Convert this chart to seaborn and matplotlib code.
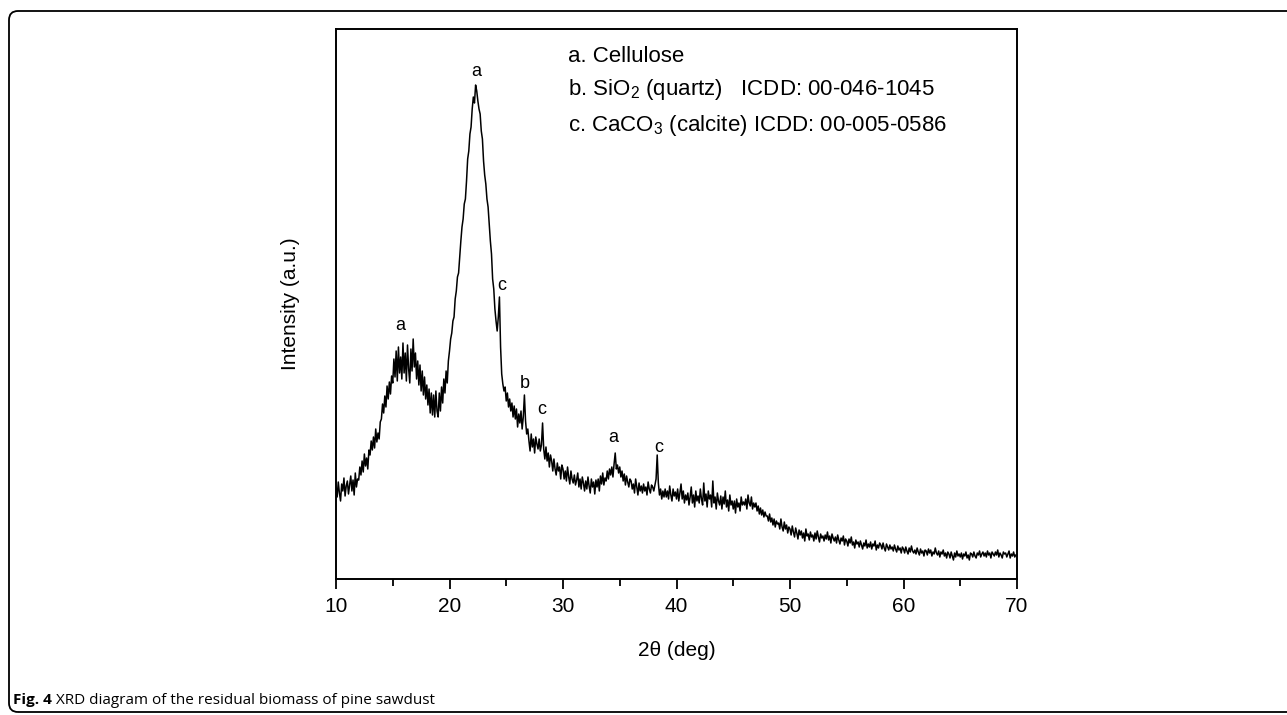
import numpy as np
import pandas as pd
import matplotlib
matplotlib.use("Agg")
import matplotlib.pyplot as plt
import seaborn as sns
from matplotlib.patches import FancyBboxPatch
from matplotlib.transforms import IdentityTransform

# ---- data (0.1 deg steps, 10..70 deg) ----
two_theta_start, two_theta_step = 10.0, 0.1
intensity = [
    92, 82, 97, 86, 78, 95, 88, 101, 83, 93,          # 10
    98, 85, 94, 103, 88, 99, 84, 106, 92, 100,        # 11
    99, 112, 104, 118, 107, 125, 113, 121, 110, 129,  # 12
    124, 138, 129, 142, 131, 150, 137, 146, 140, 157, # 13
    160, 175, 166, 183, 172, 193, 180, 197, 185, 203, # 14
    196, 220, 202, 228, 198, 232, 206, 222, 200, 236, # 15
    206, 226, 198, 234, 210, 196, 230, 208, 240, 212, # 16
    226, 200, 218, 194, 214, 188, 208, 184, 202, 180, # 17
    194, 174, 190, 166, 186, 164, 184, 162, 188, 168, # 18
    162, 186, 168, 192, 176, 200, 186, 208, 196, 218, # 19
    228, 240, 246, 258, 262, 280, 288, 302, 306, 322, # 20
    338, 352, 360, 375, 380, 398, 420, 428, 445, 452, # 21
    470, 482, 476, 494, 488, 478, 470, 465, 448, 440, # 22
    418, 404, 395, 380, 372, 355, 338, 325, 300, 290, # 23
    270, 258, 248, 262, 282, 232, 205, 195, 188, 192, # 24
    178, 186, 172, 180, 168, 176, 162, 173, 160, 170, # 25
    152, 165, 156, 168, 150, 162, 184, 158, 145, 150, # 26
    138, 128, 145, 132, 140, 126, 142, 135, 130, 140, # 27
    128, 134, 156, 130, 120, 132, 118, 126, 112, 124, # 28
    118, 108, 120, 110, 104, 116, 108, 112, 100, 114, # 29
    110, 100, 108, 98, 112, 102, 95, 108, 100, 96,    # 30
    104, 94, 99, 106, 92, 100, 90, 102, 96, 88,       # 31
    98, 90, 102, 93, 86, 100, 92, 97, 85, 99,         # 32
    92, 100, 88, 103, 95, 106, 94, 101, 98, 108,      # 33
    100, 110, 104, 112, 102, 115, 126, 110, 114, 106, # 34
    112, 102, 108, 98, 105, 94, 103, 97, 92, 100,     # 35
    98, 90, 95, 86, 100, 92, 84, 96, 88, 93,          # 36
    86, 95, 88, 92, 84, 97, 90, 86, 94, 92,           # 37
    88, 94, 100, 124, 96, 84, 90, 80, 88, 82,         # 38
    90, 82, 88, 80, 93, 84, 78, 90, 83, 87,           # 39
    80, 90, 78, 86, 95, 80, 88, 76, 84, 79,           # 40
    86, 74, 82, 92, 76, 84, 72, 88, 78, 83,           # 41
    76, 90, 80, 74, 96, 78, 85, 72, 88, 80,           # 42
    84, 72, 98, 76, 82, 70, 86, 78, 74, 83,           # 43
    70, 82, 75, 88, 72, 79, 68, 84, 74, 78,           # 44
    70, 78, 66, 80, 72, 76, 68, 82, 74, 77,           # 45
    74, 80, 70, 84, 76, 73, 82, 70, 76, 72,           # 46
    76, 68, 73, 65, 71, 64, 69, 62, 67, 63,           # 47
    63, 58, 65, 57, 61, 54, 60, 52, 58, 55,           # 48
    56, 50, 60, 52, 48, 57, 50, 54, 46, 52,           # 49
    50, 44, 53, 47, 42, 51, 46, 40, 49, 44,           # 50
    48, 41, 46, 38, 50, 43, 45, 39, 47, 42,           # 51
    44, 38, 46, 40, 48, 42, 37, 45, 41, 43,           # 52
    38, 44, 40, 47, 39, 43, 36, 45, 41, 38,           # 53
    42, 36, 44, 39, 35, 41, 38, 43, 34, 40,           # 54
    38, 33, 40, 36, 42, 34, 37, 31, 39, 35,           # 55
    37, 32, 38, 34, 30, 36, 33, 39, 31, 35,           # 56
    32, 37, 30, 35, 33, 38, 29, 34, 31, 36,           # 57
    34, 30, 36, 31, 28, 35, 32, 29, 34, 30,           # 58
    32, 28, 34, 30, 27, 33, 29, 31, 26, 32,           # 59
    30, 26, 32, 28, 25, 31, 27, 33, 28, 26,           # 60
    29, 25, 31, 27, 24, 30, 26, 28, 23, 29,           # 61
    28, 24, 30, 26, 29, 23, 27, 25, 31, 26,           # 62
    24, 28, 22, 27, 25, 29, 23, 26, 21, 27,           # 63
    25, 21, 27, 23, 19, 26, 22, 28, 23, 25,           # 64
    22, 26, 20, 25, 23, 27, 21, 24, 19, 26,           # 65
    25, 22, 27, 23, 21, 26, 24, 28, 22, 25,           # 66
    27, 23, 26, 22, 28, 24, 26, 21, 27, 25,           # 67
    23, 27, 24, 29, 22, 26, 24, 21, 27, 25,           # 68
    26, 22, 25, 28, 21, 25, 23, 27, 22, 24,           # 69
    25,                                               # 70
]

peak_labels = ["a", "a", "c", "b", "c", "a", "c"]
peak_label_x = [22.33, 15.64, 24.63, 26.65, 28.15, 34.4, 38.4]
peak_label_y = [507, 254, 294, 196, 169, 141, 131]

legend_lines = [
    "a. Cellulose",
    "b. SiO$_2$ (quartz)   ICDD: 00-046-1045",
    "c. CaCO$_3$ (calcite) ICDD: 00-005-0586",
]

x_ticks = [10, 20, 30, 40, 50, 60, 70]
x_label = "2\u03b8 (deg)"
y_label = "Intensity (a.u.)"
caption_bold = "Fig. 4"
caption_text = " XRD diagram of the residual biomass of pine sawdust"

two_theta = two_theta_start + two_theta_step * np.arange(len(intensity))
df = pd.DataFrame({"two_theta": two_theta, "intensity": intensity})

# ---- style ----
sns.set_style("white")
plt.rcParams["font.family"] = ["Liberation Sans", "DejaVu Sans"]
plt.rcParams["mathtext.fontset"] = "custom"
plt.rcParams["mathtext.rm"] = "Liberation Sans"
plt.rcParams["mathtext.it"] = "Liberation Sans"
plt.rcParams["text.color"] = "black"
plt.rcParams["axes.labelcolor"] = "black"
plt.rcParams["xtick.color"] = "black"
plt.rcParams["ytick.color"] = "black"

W, H = 1287, 715
fig = plt.figure(figsize=(W / 100, H / 100), dpi=100)
ax_left, ax_right, ax_top, ax_bottom = 336, 1017, 29, 579
ax = fig.add_axes([ax_left / W, 1 - ax_bottom / H,
                   (ax_right - ax_left) / W, (ax_bottom - ax_top) / H])

sns.lineplot(data=df, x="two_theta", y="intensity", ax=ax,
             color="black", linewidth=1.1, estimator=None, sort=False)

ax.set_xlim(10, 70)
ax.set_ylim(0, 550)
ax.set_xticks(x_ticks)
ax.set_xticks(np.arange(15, 70, 10), minor=True)
ax.set_yticks([])
ax.tick_params(axis="x", which="major", direction="out", length=7, width=1.3,
               labelsize=15, pad=6, color="black", labelcolor="black", bottom=True)
ax.tick_params(axis="x", which="minor", direction="out", length=5, width=1.3,
               color="black", bottom=True)
for sp in ax.spines.values():
    sp.set_color("black")
    sp.set_linewidth(1.4)

ax.set_xlabel(x_label, fontsize=15, labelpad=18, color="black")
ax.set_ylabel(y_label, fontsize=15, labelpad=26, color="black")

for lab, px, py in zip(peak_labels, peak_label_x, peak_label_y):
    ax.text(px, py, lab, fontsize=13, ha="center", va="center", color="black")

leg_y_px = [57, 90, 125]
for line, ypx in zip(legend_lines, leg_y_px):
    fig.text(568 / W, 1 - ypx / H, line, fontsize=16, ha="left", va="center",
             color="black")

# rounded border around figure
border = FancyBboxPatch((9, H - 712), W + 40, 712 - 11,
                        boxstyle="round,pad=0,rounding_size=9",
                        transform=IdentityTransform(), fill=False,
                        edgecolor="black", linewidth=1.3)
fig.add_artist(border)

# caption
cap_family = ["Open Sans", "DejaVu Sans"]
t1 = fig.text(13 / W, 1 - 700 / H, caption_bold, fontsize=11, fontweight="bold",
              family=cap_family, ha="left", va="center", color="black")
fig.canvas.draw()
bb = t1.get_window_extent(renderer=fig.canvas.get_renderer())
fig.text(bb.x1 / W, 1 - 700 / H, caption_text, fontsize=11,
         family=cap_family, ha="left", va="center", color="black")

fig.savefig("out.png", dpi=100)
